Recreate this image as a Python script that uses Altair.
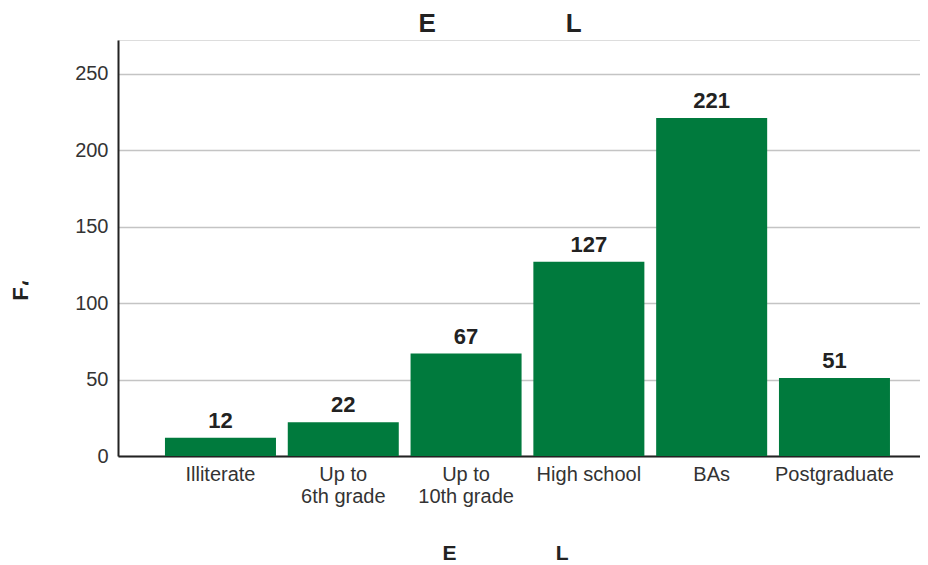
import altair as alt
import pandas as pd

categories = ["Illiterate", "Up to 6th grade", "Up to 10th grade", "High school", "BAs", "Postgraduate"]
values = [12, 22, 67, 127, 221, 51]
y_ticks = [0, 50, 100, 150, 200, 250]

df = pd.DataFrame({"level": categories, "count": values})

GREEN = "#007a3d"
DARK = "#222222"
FONT = "Liberation Sans"
NB = "\u00a0"

x = alt.X(
    "level:N",
    sort=categories,
    scale=alt.Scale(paddingInner=0.096, paddingOuter=0.3135, align=0.61),
    axis=alt.Axis(
        title="E" + NB * 17 + "L",
        titleFont=FONT, titleFontSize=21, titleFontWeight="bold", titleColor=DARK,
        titleAnchor="start", titleAlign="center", titleX=387, titleY=103,
        titleBaseline="alphabetic",
        labelAngle=0, labelFont=FONT, labelFontSize=20, labelColor="#333333",
        labelPadding=8, labelLineHeight=22,
        labelExpr="indexof(datum.label, 'Up to ') == 0 ? ['Up to', slice(datum.label, 6)] : datum.label",
        ticks=False, domainColor=DARK, domainWidth=2, grid=False,
    ),
)

y = alt.Y(
    "count:Q",
    scale=alt.Scale(domain=[0, 272], nice=False),
    axis=alt.Axis(
        title="F\u060c",
        titleFont=FONT, titleFontSize=22, titleFontWeight="bold", titleColor=DARK,
        titleAngle=-90, titleAlign="center", titleBaseline="alphabetic",
        titleX=-91, titleY=250, titleAnchor="start",
        values=y_ticks, labelFont=FONT, labelFontSize=20, labelColor="#333333",
        labelPadding=10, ticks=False, domainColor=DARK, domainWidth=2,
        gridColor="#c4c4c4", gridWidth=1.5,
    ),
)

base = alt.Chart(df).encode(x=x, y=y)
bars = base.mark_bar(color=GREEN)
labels = base.mark_text(
    font=FONT, fontSize=22, fontWeight="bold", color=DARK,
    baseline="alphabetic", dy=-10,
).encode(text="count:Q")

chart = (
    (bars + labels)
    .properties(
        width=802, height=416,
        autosize=alt.AutoSizeParams(type="none"),
        padding={"left": 110, "top": 32, "right": 0, "bottom": 112},
        title=alt.TitleParams(
            text="E" + NB * 18 + "L",
            font=FONT, fontSize=26, fontWeight="bold", color=DARK,
            anchor="middle", dx=-19, dy=25, baseline="alphabetic", offset=7,
        ),
    )
    .configure_view(stroke=None)
    .configure(background="white")
)

chart.save("out.html", embed_options={"renderer": "svg", "actions": False})
